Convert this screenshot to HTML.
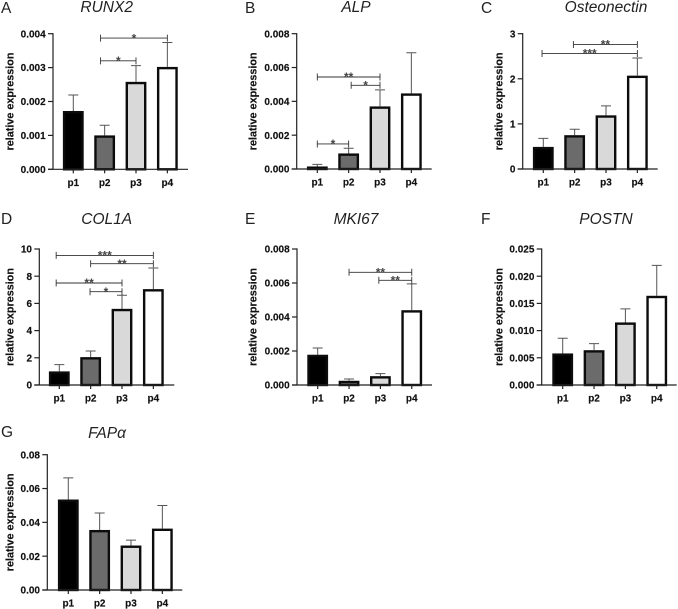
<!DOCTYPE html>
<html lang="en">
<head>
<meta charset="utf-8">
<title>Relative expression by passage</title>
<style>
html,body{margin:0;padding:0;background:#fff;width:678px;height:609px;overflow:hidden}
svg{display:block;font-family:"Liberation Sans",sans-serif;filter:blur(0.35px)}
</style>
</head>
<body>
<svg id="figure" xmlns="http://www.w3.org/2000/svg" width="678" height="609" viewBox="0 0 678 609"></svg>
<script>
const categories = ['p1', 'p2', 'p3', 'p4'];
const barFills = ['#000000', '#6b6b6b', '#d9d9d9', '#ffffff'];

const runx2Means = [0.00172, 0.00100, 0.00258, 0.00302];
const runx2Errors = [0.00047, 0.00030, 0.00048, 0.00072];
const runx2Ticks = ['0.000', '0.001', '0.002', '0.003', '0.004'];
const runx2SigFrom = [0.87, 0.87];
const runx2SigTo = [3, 2];
const runx2SigLevel = [0.00387, 0.00320];
const runx2SigLabel = ['*', '*'];

const alpMeans = [0.00015, 0.00092, 0.00370, 0.00447];
const alpErrors = [0.00012, 0.00031, 0.00098, 0.00240];
const alpTicks = ['0.000', '0.002', '0.004', '0.006', '0.008'];
const alpSigFrom = [0, 1.08, 0];
const alpSigTo = [2, 2, 1];
const alpSigLevel = [0.00544, 0.00495, 0.00148];
const alpSigLabel = ['**', '*', '*'];

const osteonectinMeans = [0.49, 0.75, 1.19, 2.07];
const osteonectinErrors = [0.19, 0.13, 0.21, 0.39];
const osteonectinTicks = ['0', '1', '2', '3'];
const osteonectinSigFrom = [0.96, -0.04];
const osteonectinSigTo = [3, 3];
const osteonectinSigLevel = [2.76, 2.56];
const osteonectinSigLabel = ['**', '***'];

const col1aMeans = [1.0, 2.05, 5.6, 7.05];
const col1aErrors = [0.5, 0.45, 1.0, 1.55];
const col1aTicks = ['0', '2', '4', '6', '8', '10'];
const col1aSigFrom = [-0.1, 1, -0.1, 0.98];
const col1aSigTo = [3, 3, 2, 2];
const col1aSigLevel = [9.53, 8.92, 7.5, 6.86];
const col1aSigLabel = ['***', '**', '**', '*'];

const mki67Means = [0.00178, 0.00025, 0.00052, 0.00440];
const mki67Errors = [0.00040, 0.00010, 0.00015, 0.00155];
const mki67Ticks = ['0.000', '0.002', '0.004', '0.006', '0.008'];
const mki67SigFrom = [1, 1.95];
const mki67SigTo = [3, 3];
const mki67SigLevel = [0.00663, 0.00616];
const mki67SigLabel = ['**', '**'];

const postnMeans = [0.0058, 0.0064, 0.0115, 0.0164];
const postnErrors = [0.0028, 0.0012, 0.0025, 0.0056];
const postnTicks = ['0.000', '0.005', '0.010', '0.015', '0.020', '0.025'];

const fapMeans = [0.0535, 0.0355, 0.0263, 0.0363];
const fapErrors = [0.0128, 0.0100, 0.0032, 0.0137];
const fapTicks = ['0.00', '0.02', '0.04', '0.06', '0.08'];

const NS = 'http://www.w3.org/2000/svg';
const figure = document.getElementById('figure');

function make(parent, tag, attrs, text) {
  const el = document.createElementNS(NS, tag);
  for (const k in attrs) el.setAttribute(k, attrs[k]);
  if (text !== undefined) el.textContent = text;
  parent.appendChild(el);
  return el;
}

function drawPanel(p) {
  const slug = p.slug;
  const g = make(figure, 'g', {});
  
  

  const tickVals = p.ticks.map(Number);
  const yMax = tickVals[tickVals.length - 1];
  const yScale = v => p.bottom - (v / yMax) * (p.bottom - p.top);
  const xScale = i => p.firstX + i * 31.35;

  const letter = make(g, 'text', {x: p.letterX, y: p.letterY, 'font-size': 15.5, fill: '#222'}, p.letter);
  
  

  const title = make(g, 'text', {x: p.titleX, y: p.titleY, 'font-size': 15.5, 'font-style': 'italic', fill: '#222', 'text-anchor': 'middle'}, p.title);
  
  

  const yTitle = make(g, 'text', {
    x: 0, y: 0, 'font-size': 10.8, 'font-weight': 'bold', fill: '#111', stroke: '#111', 'stroke-width': 0.15, 'text-anchor': 'middle',
    transform: 'translate(' + p.yTitleX + ' ' + (p.top + p.bottom) / 2 + ') rotate(-90)'
  }, 'relative expression');
  
  

  categories.forEach((cat, i) => {
    const cx = xScale(i);
    const yM = yScale(p.means[i]);
    const yU = yScale(p.means[i] + p.errors[i]);

    const err = make(g, 'path', {
      d: 'M' + cx + ' ' + yM + 'V' + yU + 'M' + (cx - 5) + ' ' + yU + 'H' + (cx + 5),
      stroke: '#555', 'stroke-width': 1, fill: 'none'
    });
    
    

    const bar = make(g, 'rect', {
      x: cx - 9.2, y: yM + 1.2, width: 18.4, height: Math.max(p.bottom - yM - 1.2, 0),
      fill: barFills[i], stroke: '#0c0c0c', 'stroke-width': 2.4
    });
    
    

    const tick = make(g, 'line', {x1: cx, x2: cx, y1: p.bottom, y2: p.bottom + 4, stroke: '#222', 'stroke-width': 1.2});
    
    

    const label = make(g, 'text', {x: cx, y: p.bottom + 16.7, 'font-size': 10, 'font-weight': 'bold', fill: '#111', stroke: '#111', 'stroke-width': 0.15, 'text-anchor': 'middle'}, cat);
    
    
  });

  const xAxis = make(g, 'line', {x1: p.axisX - 5, x2: p.axisX + 135, y1: p.bottom, y2: p.bottom, stroke: '#222', 'stroke-width': 1.2});
  
  

  const yAxis = make(g, 'line', {x1: p.axisX, x2: p.axisX, y1: p.top - 0.6, y2: p.bottom, stroke: '#222', 'stroke-width': 1.2});
  
  

  p.ticks.forEach((t, i) => {
    const y = yScale(tickVals[i]);
    const tick = make(g, 'line', {x1: p.axisX - 5, x2: p.axisX, y1: y, y2: y, stroke: '#222', 'stroke-width': 1.2});
    
    

    const label = make(g, 'text', {x: p.axisX - 7.3, y: y + 3.6, 'font-size': 10, 'font-weight': 'bold', fill: '#111', stroke: '#111', 'stroke-width': 0.15, 'text-anchor': 'end'}, t);
    
    
  });

  (p.sigLevel || []).forEach((level, i) => {
    const x1 = xScale(p.sigFrom[i]);
    const x2 = xScale(p.sigTo[i]);
    const y = yScale(level);
    const bracket = make(g, 'path', {
      d: 'M' + x1 + ' ' + (y - 3.5) + 'V' + (y + 3.5) + 'M' + x1 + ' ' + y + 'H' + x2 + 'M' + x2 + ' ' + (y - 3.5) + 'V' + (y + 3.5),
      stroke: '#333', 'stroke-width': 0.9, fill: 'none'
    });
    
    

    const star = make(g, 'text', {x: (x1 + x2) / 2, y: y + 4.2, 'font-size': 12, 'font-weight': 'bold', fill: '#444', 'text-anchor': 'middle'}, p.sigLabel[i]);
    
    
  });
}

drawPanel({slug: 'runx2', letter: 'A', title: 'RUNX2', means: runx2Means, errors: runx2Errors, ticks: runx2Ticks,
  sigFrom: runx2SigFrom, sigTo: runx2SigTo, sigLevel: runx2SigLevel, sigLabel: runx2SigLabel,
  axisX: 53, top: 33.7, bottom: 169.3, firstX: 73.3, letterX: 1, letterY: 13, titleX: 106.7, titleY: 12, yTitleX: 13.3});
drawPanel({slug: 'alp', letter: 'B', title: 'ALP', means: alpMeans, errors: alpErrors, ticks: alpTicks,
  sigFrom: alpSigFrom, sigTo: alpSigTo, sigLevel: alpSigLevel, sigLabel: alpSigLabel,
  axisX: 296.7, top: 33.7, bottom: 169, firstX: 317.3, letterX: 245, letterY: 13, titleX: 356, titleY: 12, yTitleX: 256.7});
drawPanel({slug: 'osteonectin', letter: 'C', title: 'Osteonectin', means: osteonectinMeans, errors: osteonectinErrors, ticks: osteonectinTicks,
  sigFrom: osteonectinSigFrom, sigTo: osteonectinSigTo, sigLevel: osteonectinSigLevel, sigLabel: osteonectinSigLabel,
  axisX: 522.7, top: 33.7, bottom: 169, firstX: 543.3, letterX: 481, letterY: 13, titleX: 606, titleY: 12, yTitleX: 502.7});
drawPanel({slug: 'col1a', letter: 'D', title: 'COL1A', means: col1aMeans, errors: col1aErrors, ticks: col1aTicks,
  sigFrom: col1aSigFrom, sigTo: col1aSigTo, sigLevel: col1aSigLevel, sigLabel: col1aSigLabel,
  axisX: 39.3, top: 249, bottom: 385, firstX: 59.3, letterX: 1, letterY: 224, titleX: 106.7, titleY: 224, yTitleX: 13.3});
drawPanel({slug: 'mki67', letter: 'E', title: 'MKI67', means: mki67Means, errors: mki67Errors, ticks: mki67Ticks,
  sigFrom: mki67SigFrom, sigTo: mki67SigTo, sigLevel: mki67SigLevel, sigLabel: mki67SigLabel,
  axisX: 297, top: 249, bottom: 385, firstX: 317.7, letterX: 245, letterY: 224, titleX: 356, titleY: 224, yTitleX: 256.7});
drawPanel({slug: 'postn', letter: 'F', title: 'POSTN', means: postnMeans, errors: postnErrors, ticks: postnTicks,
  axisX: 541.7, top: 249, bottom: 385, firstX: 562.7, letterX: 481, letterY: 224, titleX: 606, titleY: 224, yTitleX: 502.7});
drawPanel({slug: 'fap', letter: 'G', title: 'FAPα', means: fapMeans, errors: fapErrors, ticks: fapTicks,
  axisX: 47.3, top: 454.7, bottom: 590, firstX: 68.3, letterX: 1, letterY: 437, titleX: 107, titleY: 438, yTitleX: 13.3});
</script>
</body>
</html>
